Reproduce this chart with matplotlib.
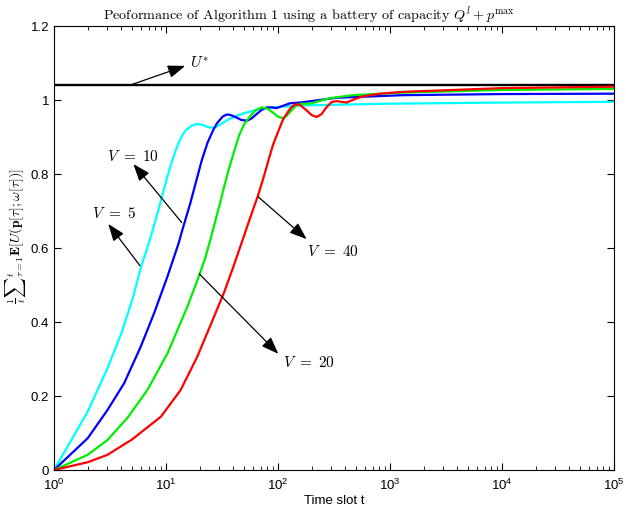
import matplotlib
matplotlib.use('Agg')
import matplotlib.pyplot as plt
import numpy as np
from matplotlib.ticker import FixedLocator, FixedFormatter, LogLocator

plt.rcParams['font.family'] = ['Liberation Sans', 'DejaVu Sans']

# curves (t, value)
t_v5 = [1, 2, 3, 4, 5, 6, 7, 8, 9, 10, 11, 12, 13, 14, 15, 17, 19, 21, 24, 27, 30,
        35, 43, 55, 70, 100, 157, 300, 1000, 10000, 100000]
u_v5 = [0, 0.158, 0.275, 0.37, 0.46, 0.55, 0.612, 0.672, 0.728, 0.78, 0.823, 0.858, 0.885, 0.905,
        0.918, 0.931, 0.935, 0.933, 0.926, 0.925, 0.932, 0.945, 0.958, 0.968, 0.976, 0.981,
        0.985, 0.987, 0.99, 0.993, 0.995]

t_v10 = [1, 2, 3, 4.22, 5.94, 7.81, 10.3, 12.9, 14, 16.4, 20.8, 23.5, 26.5, 28.5, 32, 35,
         38, 43, 47, 53, 58, 65, 72, 79, 88, 97, 110, 128, 157, 334, 1306, 10000, 100000]
u_v10 = [0, 0.086, 0.162, 0.234, 0.333, 0.423, 0.523, 0.611, 0.649, 0.719, 0.836, 0.885, 0.92,
         0.937, 0.955, 0.961, 0.959, 0.952, 0.946, 0.944, 0.95, 0.963, 0.974, 0.98, 0.98, 0.978,
         0.984, 0.991, 0.993, 1.006, 1.013, 1.016, 1.017]

t_v20 = [1, 2, 3, 4.5, 6.81, 10.3, 15.5, 20, 22.5, 25, 27.5, 30, 33, 36.5, 40, 45, 50,
         56, 63, 71, 80, 90, 100, 110, 120, 132, 145, 160, 193, 291, 467, 1306, 10000, 100000]
u_v20 = [0, 0.041, 0.081, 0.14, 0.216, 0.315, 0.441, 0.53, 0.575, 0.625, 0.672, 0.715, 0.765,
         0.815, 0.855, 0.905, 0.935, 0.955, 0.972, 0.98, 0.977, 0.966, 0.955, 0.951, 0.958,
         0.972, 0.985, 0.99, 0.99, 1.005, 1.013, 1.02, 1.027, 1.03]

t_v40 = [1, 2, 3, 5, 9, 13.5, 19, 26.8, 33, 40, 45, 50, 55, 60, 66, 75, 82, 90, 101,
         110, 119, 130, 142, 155, 175, 200, 222, 245, 270, 300, 330, 370, 410, 480, 574,
         815, 1306, 10000, 100000]
u_v40 = [0, 0.021, 0.041, 0.083, 0.144, 0.216, 0.306, 0.414, 0.48, 0.55, 0.595, 0.635, 0.672,
         0.705, 0.74, 0.795, 0.836, 0.878, 0.917, 0.945, 0.962, 0.979, 0.988, 0.988, 0.975,
         0.959, 0.954, 0.962, 0.98, 0.994, 0.997, 0.995, 0.993, 1.002, 1.01, 1.017, 1.022,
         1.032, 1.036]

t_opt = [1, 100000]
u_opt = [1.04, 1.04]

y_ticks = [0, 0.2, 0.4, 0.6, 0.8, 1, 1.2]
y_labels = ['0', '0.2', '0.4', '0.6', '0.8', '1', '1.2']

fig = plt.figure(figsize=(6.26, 5.10), dpi=100)
ax = fig.add_axes([0.0863, 0.0765, 0.8946, 0.8706])

ax.plot(t_opt, u_opt, color='k', lw=1.7)
ax.plot(t_v5, u_v5, color='#00ffff', lw=1.6)
ax.plot(t_v10, u_v10, color='#0000ff', lw=1.6)
ax.plot(t_v20, u_v20, color='#00ee00', lw=1.6)
ax.plot(t_v40, u_v40, color='#ff0000', lw=1.6)

ax.set_xscale('log')
ax.set_xlim(1, 1e5)
ax.set_ylim(0, 1.2)
ax.yaxis.set_major_locator(FixedLocator(y_ticks))
ax.yaxis.set_major_formatter(FixedFormatter(y_labels))
ax.xaxis.set_minor_locator(LogLocator(base=10, subs=np.arange(2, 10), numticks=20))
ax.tick_params(which='both', direction='in', top=True, right=True, labelsize=9.5)
ax.tick_params(which='major', length=5)
ax.tick_params(which='minor', length=3)
ax.tick_params(axis='x', which='major', pad=5)
for s in ax.spines.values():
    s.set_linewidth(0.8)

ax.set_title(r'Peoformance of Algorithm 1 using a battery of capacity $Q^l+p^{\max}$',
             family='cmr10', math_fontfamily='cm', fontsize=10.2, pad=4, x=0.455)
ax.set_xlabel('Time slot t', fontsize=9.5, labelpad=1)
ax.set_ylabel(r'$\frac{1}{t}{\sum}_{\tau=1}^{t}\mathbf{E}[U(\mathbf{p}[\tau];\omega[\tau])]$',
              math_fontfamily='cm', fontsize=10)
ax.yaxis.set_label_coords(-0.047, 0.53)

arr = dict(arrowstyle='-|>,head_length=0.75,head_width=0.28', color='k', lw=0.9,
           mutation_scale=14, shrinkA=0, shrinkB=0)
lab = dict(math_fontfamily='cm', fontsize=11, va='center', ha='left')

ax.annotate('', xy=(14.8, 1.092), xytext=(4.77, 1.04), arrowprops=arr)
ax.text(16.3, 1.105, r'$U^{*}$', **lab)

ax.annotate('', xy=(5.11, 0.827), xytext=(13.8, 0.669), arrowprops=arr)
ax.text(2.95, 0.85, r'$V\ =\ 10$', **lab)

ax.annotate('', xy=(3.05, 0.665), xytext=(5.86, 0.552), arrowprops=arr)
ax.text(2.17, 0.695, r'$V\ =\ 5$', **lab)

ax.annotate('', xy=(100.6, 0.314), xytext=(19.8, 0.53), arrowprops=arr)
ax.text(111, 0.292, r'$V\ =\ 20$', **lab)

ax.annotate('', xy=(180, 0.624), xytext=(66.6, 0.738), arrowprops=arr)
ax.text(181, 0.592, r'$V\ =\ 40$', **lab)

fig.savefig('out.png', dpi=100)
